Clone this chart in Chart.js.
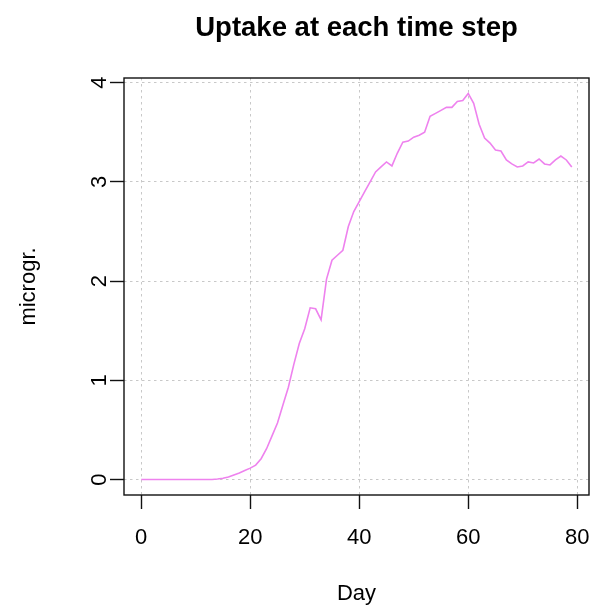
<!DOCTYPE html>
<html><head><meta charset="utf-8">
<script src="https://cdn.jsdelivr.net/npm/chart.js@4/dist/chart.umd.min.js"></script>
<style>html,body{margin:0;padding:0;background:#fff;}#wrap{width:593px;height:607px;}</style>
</head><body><div id="wrap"><canvas id="c" width="593" height="607"></canvas></div>
<script>
const days = [0,1,2,3,4,5,6,7,8,9,10,11,12,13,14,15,16,17,18,19,20,21,22,23,24,25,26,27,28,29,30,31,32,33,34,35,36,37,38,39,40,41,42,43,44,45,46,47,48,49,50,51,52,53,54,55,56,57,58,59,60,61,62,63,64,65,66,67,68,69,70,71,72,73,74,75,76,77,78,79];
const uptake = [0,0,0,0,0,0,0,0,0,0,0,0,0,0,0.005,0.012,0.025,0.045,0.065,0.09,
  0.115,0.145,0.21,0.31,0.44,0.57,0.75,0.93,1.16,1.37,
  1.52,1.73,1.72,1.61,2.02,2.21,2.26,2.31,2.55,2.70,
  2.80,2.90,3.00,3.10,3.15,3.20,3.16,3.29,3.40,3.41,
  3.45,3.47,3.50,3.66,3.69,3.72,3.75,3.75,3.81,3.82,
  3.89,3.79,3.58,3.44,3.39,3.32,3.31,3.22,3.18,3.15,
  3.16,3.20,3.19,3.23,3.18,3.17,3.22,3.26,3.22,3.15];
const xTicks = [0,20,40,60,80];
const yTicks = [0,1,2,3,4];
const titleText = 'Uptake at each time step';
const xTitle = 'Day';
const yTitle = 'microgr.';

const FONT = '"Liberation Sans", Arial, sans-serif';
const LBL = 22;

const boxPlugin = {
  id: 'rbox',
  afterDatasetsDraw(chart) {
    const {ctx, chartArea: a} = chart;
    ctx.save();
    ctx.strokeStyle = '#111';
    ctx.lineWidth = 1.4;
    ctx.strokeRect(a.left, a.top, a.right - a.left, a.bottom - a.top);
    ctx.restore();
  },
  afterDraw(chart) {
    const {ctx, chartArea: a} = chart;
    ctx.save();
    ctx.font = 'bold 27.5px ' + FONT;
    ctx.fillStyle = '#000';
    ctx.textAlign = 'center';
    ctx.textBaseline = 'alphabetic';
    ctx.fillText(titleText, (a.left + a.right) / 2, 36);
    ctx.restore();
  }
};

function zeroPad(s) { s.paddingLeft = 0; s.paddingRight = 0; s.paddingTop = 0; s.paddingBottom = 0; }

new Chart(document.getElementById('c'), {
  type: 'line',
  data: {
    datasets: [{
      data: days.map((d, i) => ({x: d, y: uptake[i]})),
      borderColor: '#EE82EE',
      borderWidth: 1.6,
      pointRadius: 0,
      tension: 0,
      fill: false
    }]
  },
  options: {
    responsive: false,
    animation: false,
    devicePixelRatio: 1,
    layout: {padding: {top: 78, right: 4, left: 0, bottom: 0}},
    plugins: {legend: {display: false}, tooltip: {enabled: false}, title: {display: false}},
    scales: {
      x: {
        type: 'linear',
        min: -3.16, max: 82.16,
        afterBuildTicks: s => { s.ticks = xTicks.map(v => ({value: v})); },
        afterFit: s => { s.height = 112; zeroPad(s); },
        grid: {color: '#c8c8c8', lineWidth: 1, drawTicks: true, tickLength: 14, tickColor: '#111', tickWidth: 1.4, tickBorderDash: []},
        border: {display: false, dash: [2.5, 3.5]},
        ticks: {color: '#000', font: {family: FONT, size: LBL}, padding: 16, maxRotation: 0, minRotation: 0},
        title: {display: true, text: xTitle, color: '#000', font: {family: FONT, size: LBL}, padding: {top: 0, bottom: 0}}
      },
      y: {
        type: 'linear',
        min: -0.156, max: 4.046,
        afterBuildTicks: s => { s.ticks = yTicks.map(v => ({value: v})); },
        afterFit: s => { s.width = 124; zeroPad(s); },
        grid: {color: '#c8c8c8', lineWidth: 1, drawTicks: true, tickLength: 14, tickColor: '#111', tickWidth: 1.4, tickBorderDash: []},
        border: {display: false, dash: [2.5, 3.5]},
        ticks: {color: '#000', font: {family: FONT, size: LBL}, padding: 4, minRotation: 90, maxRotation: 90, crossAlign: 'center'},
        title: {display: true, text: yTitle, color: '#000', font: {family: FONT, size: LBL}, padding: {top: 16, bottom: 0}}
      }
    }
  },
  plugins: [boxPlugin]
});
</script>
</body></html>
